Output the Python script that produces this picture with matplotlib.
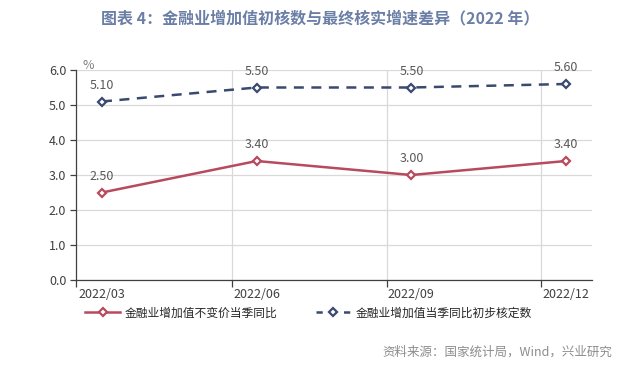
import matplotlib
matplotlib.use("Agg")
import matplotlib.pyplot as plt
from matplotlib.lines import Line2D

plt.rcParams['font.family'] = ['Noto Sans CJK SC', 'DejaVu Sans']

categories = ["2022/03", "2022/06", "2022/09", "2022/12"]
real_growth = [2.50, 3.40, 3.00, 3.40]
prelim_growth = [5.10, 5.50, 5.50, 5.60]
yticks = [0.0, 1.0, 2.0, 3.0, 4.0, 5.0, 6.0]

red = "#b84a5e"
navy = "#3a4a6e"
grid_c = "#d9d9d9"
txt = "#404040"

fig = plt.figure(figsize=(6.4, 3.67), dpi=100)
ax = fig.add_axes([76/640, 1-280/367, (592-76)/640, (280-70)/367])

x = list(range(len(categories)))
ax.plot(x, real_growth, color=red, lw=1.8, marker='D', ms=4, mfc='white', mec=red, mew=1.6, zorder=3)
ax.plot(x, prelim_growth, color=navy, lw=1.8, ls=(0, (4, 3)), marker='D', ms=4, mfc='white', mec=navy, mew=1.6, zorder=3)

for xi, v in zip(x, real_growth):
    ax.annotate(f"{v:.2f}", (xi, v), xytext=(0, 7), textcoords='offset points', ha='center', va='bottom',
                fontsize=9, color="#595959", fontweight='light')
for xi, v in zip(x, prelim_growth):
    ax.annotate(f"{v:.2f}", (xi, v), xytext=(0, 7), textcoords='offset points', ha='center', va='bottom',
                fontsize=9, color="#595959", fontweight='light')

ax.set_xlim(-0.168, 3.168)
ax.set_ylim(0, 6)
ax.set_yticks(yticks)
ax.set_yticklabels([f"{v:.1f}" for v in yticks], fontsize=9, color=txt)
ax.yaxis.grid(True, color=grid_c, lw=0.9)
ax.set_axisbelow(True)
for g in [0.84, 1.84, 2.84]:
    ax.axvline(g, color=grid_c, lw=0.9, zorder=0)

ax.set_xticks(x)
ax.set_xticklabels(categories, fontsize=9, color=txt)
ax.tick_params(axis='x', length=0, pad=6)
ax.tick_params(axis='y', length=4, width=0.9, color="#404040", direction='out', pad=3)
ax.set_xticks([-0.168, 0.84, 1.84, 2.84], minor=True)
ax.tick_params(axis='x', which='minor', length=5, width=0.9, color="#404040")

for s in ['top', 'right']:
    ax.spines[s].set_visible(False)
for s in ['left', 'bottom']:
    ax.spines[s].set_color("#404040")
    ax.spines[s].set_linewidth(0.9)

ax.text(-0.125, 6.12, "%", fontsize=9, color="#7f7f7f", ha='left', va='center', fontweight='light',
        transform=ax.transData, clip_on=False)

fig.text(0.5, 1-18/367, "图表 4：金融业增加值初核数与最终核实增速差异（2022 年）", ha='center', va='center',
         fontsize=11.5, color="#6b7fa6", fontweight='bold')

handles = [
    Line2D([], [], color=red, lw=1.8, marker='D', ms=4, mfc='white', mec=red, mew=1.6),
    Line2D([], [], color=navy, lw=1.8, ls=(0, (2.5, 3)), marker='D', ms=4, mfc='white', mec=navy, mew=1.6),
]
labels = ["金融业增加值不变价当季同比", "金融业增加值当季同比初步核定数"]
fig.legend(handles, labels, loc='center left', bbox_to_anchor=(85/640, 1-313/367), ncol=2, frameon=False,
           fontsize=8.5, handlelength=3.0, columnspacing=3.2, handletextpad=0.4, labelcolor="#262626",
           borderpad=0, borderaxespad=0)

fig.text(612/640, 1-352/367, "资料来源：国家统计局，Wind，兴业研究", ha='right', va='center', fontsize=9, color="#8c8c8c")

fig.savefig("out.png", dpi=100)
